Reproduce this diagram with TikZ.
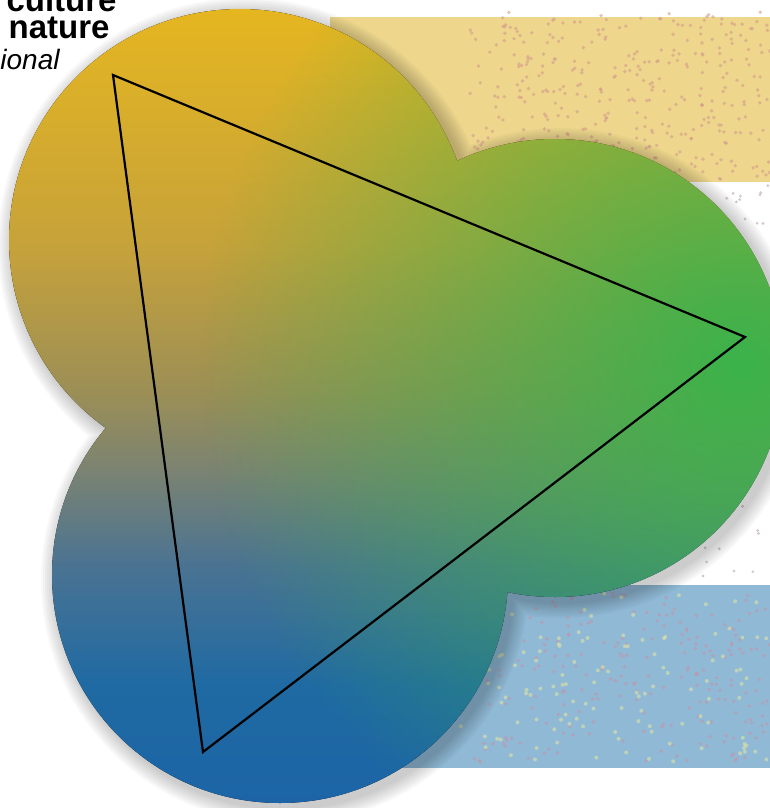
\documentclass[tikz,border=0pt]{standalone}
\usepackage{fontspec}
\setmainfont{Liberation Sans}
\usetikzlibrary{fadings}
\definecolor{sand}{HTML}{EED78D}
\definecolor{sky}{HTML}{8FB9D5}
\definecolor{leaf}{HTML}{3BB34A}
\definecolor{speckA}{HTML}{D49C8C}
\definecolor{speckB}{HTML}{B9A7B4}
\definecolor{speckC}{HTML}{DDE3A6}
\definecolor{speckD}{HTML}{C593A8}
\definecolor{c0}{HTML}{1C64A6}
\definecolor{c15}{HTML}{1F6AA3}
\definecolor{c30}{HTML}{4A7392}
\definecolor{c42}{HTML}{7B8372}
\definecolor{c52}{HTML}{9C8F55}
\definecolor{c70}{HTML}{C6A23A}
\definecolor{c100}{HTML}{E5B620}
% box of the path = 25bp..75bp
\pgfdeclareverticalshading{goldtoblue}{100bp}{color(0bp)=(c0); color(25bp)=(c0); color(32.5bp)=(c15);
  color(40bp)=(c30); color(46bp)=(c42); color(51bp)=(c52); color(60bp)=(c70); color(75bp)=(c100); color(100bp)=(c100)}
\tikzfading[name=leafglow, inner color=transparent!0, outer color=transparent!100]
\tikzset{
  boldline/.style={font=\fontsize{16.5}{18}\selectfont\bfseries, inner sep=0pt, anchor=base east},
  italline/.style={font=\fontsize{14}{17}\selectfont\itshape, inner sep=0pt, anchor=base east},
  dot/.style={opacity=.6},
}
\begin{document}
\begin{tikzpicture}[x=0.5pt,y=-0.5pt]
\useasboundingbox (0,0) rectangle (770,808);
\clip (0,0) rectangle (770,808);
% bands behind the circles
\fill[sand] (330,17) rectangle (780,182);
\fill[sky] (400,585) rectangle (780,768);
% speckles
\pgfmathsetseed{17}
\foreach \i in {1,...,380}{
  \fill[speckA,dot] ({470+300*rnd},{10+170*rnd}) circle (1.9);}
\foreach \i in {1,...,70}{
  \fill[speckB,dot] ({700+70*rnd},{185+395*rnd}) circle (1.6);}
\foreach \i in {1,...,220}{
  \fill[speckD,dot] ({470+300*rnd},{592+170*rnd}) circle (1.9);}
\foreach \i in {1,...,130}{
  \fill[speckC,dot] ({460+310*rnd},{592+170*rnd}) circle (2);}
% soft shadow of the circles
\foreach \d in {2,4,...,16}{
  \fill[black,opacity=.028] (245,245) circle ({231+\d}) (560,373) circle ({229+\d}) (285,580) circle ({228+\d});}
% the three circles
\begin{scope}
\clip (240,240) circle (231) (555,368) circle (229) (280,575) circle (228);
\fill[shading=goldtoblue] (0,8) rectangle (790,805);
\fill[leaf, path fading=leafglow] (740,365) circle (540);
\end{scope}
% triangle
\coordinate (culture) at (113,75);
\coordinate (society) at (745,337);
\coordinate (natnat) at (203,752);
\draw[line width=1.1pt, line join=miter] (culture) -- (society) -- (natnat) -- cycle;
% labels
\node[boldline] (asculture) at (117,12) {e culture};
\node[boldline] (innature) at (110,39) {n nature};
\node[italline] (relational) at (60,70) {ional};
\end{tikzpicture}
\end{document}
